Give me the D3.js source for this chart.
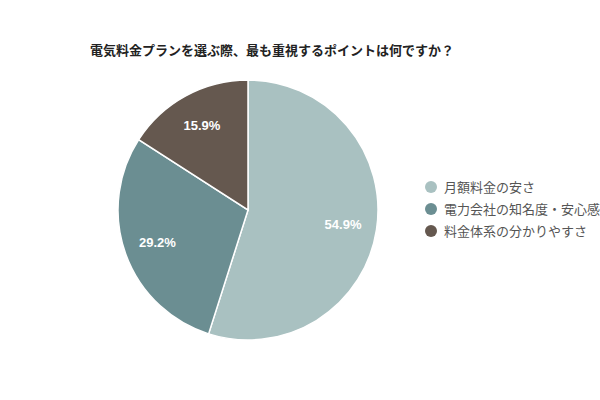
<!DOCTYPE html>
<meta charset="utf-8">
<style>
    body { margin: 0; background: #fff; }
    text { font-family: "Noto Sans CJK JP", "Liberation Sans", sans-serif; }
</style>
<svg width="600" height="400"></svg>
<script src="https://d3js.org/d3.v7.min.js"></script>
<script>

    // data
    var title = "電気料金プランを選ぶ際、最も重視するポイントは何ですか？";
    var categories = ["月額料金の安さ", "電力会社の知名度・安心感", "料金体系の分かりやすさ"];
    var values = [54.9, 29.2, 15.9];
    var colors = ["#a9c1c1", "#6b8e92", "#65584f"];

    var svg = d3.select("svg"),
        cx = 248, cy = 210, radius = 130;

    svg.append("text")
        .attr("x", 90)
        .attr("y", 55)
        .attr("font-size", "13px")
        .attr("font-weight", "bold")
        .attr("fill", "#222")
        .text(title);

    var z = d3.scaleOrdinal().domain(categories).range(colors);

    var pie = d3.pie().sort(null).value(function(d) { return d.value; });
    var arc = d3.arc().innerRadius(0).outerRadius(radius);
    var labelArc = d3.arc().innerRadius(radius * 0.74).outerRadius(radius * 0.74);

    var data = categories.map(function(c, i) { return {name: c, value: values[i]}; });

    var g = svg.append("g").attr("transform", "translate(" + cx + "," + cy + ")");

    var slices = g.selectAll(".slice")
        .data(pie(data))
        .enter().append("g")
        .attr("class", "slice");

    slices.append("path")
        .attr("d", arc)
        .attr("fill", function(d) { return z(d.data.name); })
        .attr("stroke", "#fff")
        .attr("stroke-width", 1.5);

    // percent labels inside the slices
    slices.append("text")
        .attr("transform", function(d) { return "translate(" + labelArc.centroid(d) + ")"; })
        .attr("text-anchor", "middle")
        .attr("dy", "0.35em")
        .attr("font-size", "13px")
        .attr("font-weight", "bold")
        .attr("fill", "#fff")
        .style("font-family", "'Liberation Sans', Arial, sans-serif")
        .text(function(d) { return d.data.value.toFixed(1) + "%"; });

    // legend
    var legend = svg.selectAll(".legend")
        .data(categories)
        .enter().append("g")
        .attr("class", "legend")
        .attr("transform", function(d, i) { return "translate(431," + (187 + i * 22) + ")"; });

    legend.append("circle")
        .attr("r", 6)
        .attr("fill", function(d) { return z(d); });

    legend.append("text")
        .attr("x", 13)
        .attr("dy", "0.35em")
        .attr("font-size", "13px")
        .attr("fill", "#555")
        .text(function(d) { return d; });

</script>
